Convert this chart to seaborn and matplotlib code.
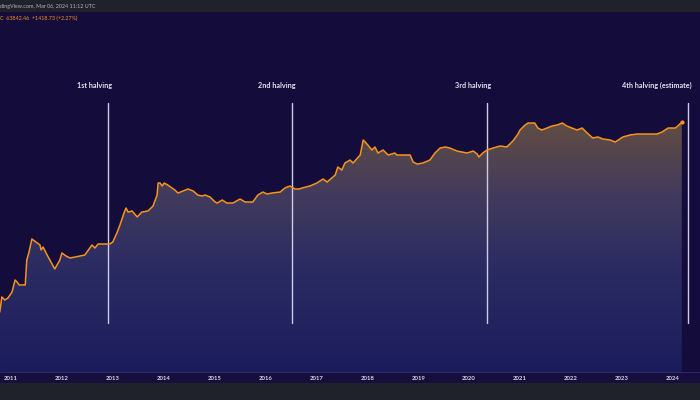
import numpy as np
import pandas as pd
import matplotlib
matplotlib.use("Agg")
import matplotlib.pyplot as plt
import matplotlib.transforms as mtransforms
from matplotlib.colors import LinearSegmentedColormap
from matplotlib.patches import Rectangle
from matplotlib.lines import Line2D
from matplotlib.ticker import NullLocator
import seaborn as sns

# ---------------- data ----------------
years = [2010.78, 2010.82, 2010.88, 2010.94, 2011.02, 2011.08, 2011.12, 2011.16, 2011.28, 2011.31,
         2011.35, 2011.41, 2011.49, 2011.57, 2011.59, 2011.63, 2011.71, 2011.86, 2011.96, 2012.00,
         2012.08, 2012.16, 2012.26, 2012.45, 2012.59, 2012.65, 2012.71, 2012.85, 2012.94, 2013.00,
         2013.08, 2013.14, 2013.22, 2013.26, 2013.30, 2013.38, 2013.48, 2013.57, 2013.69, 2013.79,
         2013.87, 2013.89, 2013.93, 2013.97, 2014.01, 2014.08, 2014.22, 2014.28, 2014.38, 2014.48,
         2014.58, 2014.67, 2014.75, 2014.81, 2014.91, 2015.01, 2015.05, 2015.15, 2015.24, 2015.36,
         2015.50, 2015.60, 2015.75, 2015.85, 2015.95, 2016.03, 2016.13, 2016.29, 2016.38, 2016.48,
         2016.58, 2016.66, 2016.72, 2016.87, 2017.01, 2017.13, 2017.21, 2017.37, 2017.42, 2017.50,
         2017.56, 2017.66, 2017.72, 2017.86, 2017.92, 2017.96, 2018.01, 2018.09, 2018.15, 2018.21,
         2018.31, 2018.41, 2018.54, 2018.58, 2018.84, 2018.90, 2018.98, 2019.09, 2019.23, 2019.33,
         2019.43, 2019.53, 2019.62, 2019.76, 2019.86, 2019.96, 2020.08, 2020.16, 2020.19, 2020.27,
         2020.35, 2020.47, 2020.61, 2020.74, 2020.86, 2020.96, 2021.00, 2021.10, 2021.16, 2021.29,
         2021.35, 2021.43, 2021.53, 2021.63, 2021.73, 2021.83, 2021.92, 2022.02, 2022.12, 2022.22,
         2022.32, 2022.43, 2022.53, 2022.63, 2022.77, 2022.87, 2023.02, 2023.16, 2023.30, 2023.42,
         2023.59, 2023.69, 2023.79, 2023.91, 2024.05, 2024.10, 2024.18]

prices = [0.36, 0.935, 0.773, 0.877, 1.28, 2.76, 2.43, 2.01, 2.01, 9.84,
          15.4, 37.4, 30.9, 25.5, 18.6, 22.5, 13.5, 5.55, 9.84, 15.4,
          12.7, 11.2, 11.9, 13.5, 25.5, 21.1, 27.2, 27.2, 27.2, 30.9,
          54.8, 91.1, 196, 269, 208, 222, 152, 208, 222, 305,
          614, 1318, 1318, 1089, 1318, 1161, 844, 698, 792, 900,
          792, 614, 577, 614, 541, 394, 369, 447, 369, 369,
          476, 394, 394, 614, 743, 655, 698, 743, 959, 1089,
          900, 900, 959, 1089, 1318, 1700, 1404, 2192, 3647, 3013,
          4703, 5690, 4703, 7825, 20320, 17890, 14780, 10750, 13020, 8885,
          10750, 7825, 8885, 7825, 7825, 5010, 4413, 4703, 5690, 8885,
          12210, 13020, 12210, 10090, 9470, 8885, 10090, 8340, 6890, 8885,
          10750, 12210, 13870, 13020, 19060, 29760, 38370, 52720, 59840, 59840,
          43560, 38370, 43560, 49490, 52720, 59840, 49490, 43560, 38370, 43560,
          31700, 23070, 24590, 21650, 20320, 17890, 24590, 27920, 29760, 29760,
          29760, 29760, 33790, 43560, 43560, 49490, 63842.46]

halving_dates = [2012.91, 2016.52, 2020.36, 2024.30]
halving_labels = ["1st halving", "2nd halving", "3rd halving", "4th halving (estimate)"]

tick_years = list(range(2011, 2025))
tick_labels = [str(y) for y in tick_years]

header_text = "dingView.com, Mar 06, 2024 11:12 UTC"
ohlc_text = "C  63842.46  +1418.73 (+2.27%)"

# ---------------- styling ----------------
sns.set_theme(style="dark")
plt.rcParams["font.family"] = ["Lato", "DejaVu Sans"]

BG = "#140c3b"
ORANGE = "#f7931a"

fig = plt.figure(figsize=(7, 4), dpi=100, facecolor="#1f222a")
ax = fig.add_axes([0, 28 / 400, 1, 360 / 400])
ax.set_facecolor(BG)
ax.set_yscale("log")

YMIN, YMAX = 10 ** -2.101, 10 ** 7.844
XMIN, XMAX = 2010.784, 2024.536

df = pd.DataFrame({"year": years, "price": prices})

# area under the line, used as a clip path for a vertical gradient
poly = ax.fill_between(df["year"], df["price"], YMIN, facecolor="none", edgecolor="none")
cmap = LinearSegmentedColormap.from_list(
    "grad",
    [(0.0, "#1b1c5c"), (0.30, "#2c2c63"), (0.50, "#423b5b"), (0.66, "#5c4a48"), (0.78, "#6c543f"), (1.0, "#7a5c38")],
)
grad = np.linspace(0, 1, 256).reshape(-1, 1)
im = ax.imshow(grad, cmap=cmap, extent=[0, 1, 0, 1], transform=ax.transAxes,
               origin="lower", aspect="auto", zorder=1, interpolation="bilinear")
im.set_clip_path(poly.get_paths()[0], transform=ax.transData)

sns.lineplot(data=df, x="year", y="price", color=ORANGE, linewidth=1.1, ax=ax, zorder=3)
ax.scatter([years[-1]], [prices[-1]], s=9, color=ORANGE, zorder=4, linewidths=0)

blend = mtransforms.blended_transform_factory(ax.transData, ax.transAxes)
for d, lab in zip(halving_dates, halving_labels):
    ax.axvline(d, ymin=0.136, ymax=0.747, color="#cfcbe6", linewidth=1.0, zorder=2.5)
    ax.text(d + 0.07, 0.795, lab, transform=blend, ha="right", va="center",
            fontsize=5.2, fontweight="bold", color="#e6e2f2", zorder=5)

ax.set_xlim(XMIN, XMAX)
ax.set_ylim(YMIN, YMAX)
ax.set_xticks(tick_years)
ax.set_xticklabels(tick_labels, fontweight="bold")
ax.tick_params(axis="x", length=0, pad=3.2, labelsize=4.3, labelcolor="#d8d6e6")
ax.yaxis.set_major_locator(NullLocator())
ax.yaxis.set_minor_locator(NullLocator())
ax.set_xlabel("")
ax.set_ylabel("")
ax.grid(False)
for s in ax.spines.values():
    s.set_visible(False)

# x-axis strip below the plot
fig.patches.append(Rectangle((0, 17 / 400), 1, 11 / 400, transform=fig.transFigure,
                             facecolor="#160e3c", edgecolor="none", zorder=-5))
fig.lines.append(Line2D([0, 1], [28 / 400, 28 / 400], transform=fig.transFigure,
                        color="#2b2762", linewidth=0.8, zorder=-4))

# header texts
fig.text(0.0, 1 - 6.5 / 400, header_text, fontsize=3.9, color="#b2b5be", ha="left", va="center")
fig.text(0.0, 1 - 18.5 / 400, ohlc_text, fontsize=3.9, color=ORANGE, ha="left", va="center")

fig.savefig("out.png", dpi=100, facecolor=fig.get_facecolor())
